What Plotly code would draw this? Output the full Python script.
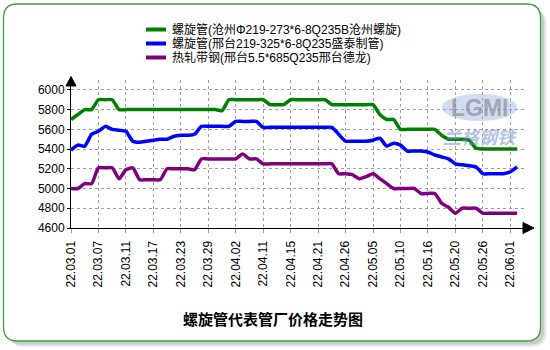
import plotly.graph_objects as go

# Trading days covered by the chart (2022)
dates = [
    "22.03.01", "22.03.02", "22.03.03", "22.03.04", "22.03.07", "22.03.08", "22.03.09", "22.03.10",
    "22.03.11", "22.03.14", "22.03.15", "22.03.16", "22.03.17", "22.03.18", "22.03.21", "22.03.22",
    "22.03.23", "22.03.24", "22.03.25", "22.03.28", "22.03.29", "22.03.30", "22.03.31", "22.04.01",
    "22.04.02", "22.04.06", "22.04.07", "22.04.08", "22.04.11", "22.04.12", "22.04.13", "22.04.14",
    "22.04.15", "22.04.18", "22.04.19", "22.04.20", "22.04.21", "22.04.22", "22.04.24", "22.04.25",
    "22.04.26", "22.04.27", "22.04.28", "22.04.29", "22.05.05", "22.05.06", "22.05.07", "22.05.09",
    "22.05.10", "22.05.11", "22.05.12", "22.05.13", "22.05.16", "22.05.17", "22.05.18", "22.05.19",
    "22.05.20", "22.05.23", "22.05.24", "22.05.25", "22.05.26", "22.05.27", "22.05.30", "22.05.31",
    "22.06.01", "22.06.02",
]
tick_dates = dates[::4]

series_names = [
    "螺旋管(沧州Φ219-273*6-8Q235B沧州螺旋)",
    "螺旋管(邢台219-325*6-8Q235盛泰制管)",
    "热轧带钢(邢台5.5*685Q235邢台德龙)",
]
series_colors = ["#008000", "#0000ff", "#800080"]

cangzhou_pipe = [
    5700, 5750, 5800, 5800, 5900, 5900, 5900, 5800,
    5800, 5800, 5800, 5800, 5800, 5800, 5800, 5800, 5800, 5800, 5800, 5800, 5800, 5800,
    5790,
    5900, 5900, 5900, 5900, 5900, 5900,
    5850, 5850, 5850,
    5900, 5900, 5900, 5900, 5900, 5900,
    5850, 5850, 5850, 5850, 5850, 5850, 5850,
    5750, 5700, 5700,
    5600, 5600, 5600, 5600, 5600, 5600,
    5540, 5500, 5500, 5500, 5490, 5410,
    5400, 5400, 5400, 5400, 5400, 5400,
]
xingtai_pipe = [
    5390, 5440, 5430, 5550, 5580, 5630, 5600, 5590, 5580, 5480,
    5470, 5480, 5490, 5500, 5500, 5530, 5540, 5540, 5550, 5630,
    5630, 5630, 5630, 5630, 5680, 5680, 5680, 5680, 5620,
    5620, 5620, 5620, 5620, 5620, 5620, 5620, 5620, 5620, 5620,
    5550, 5480, 5480, 5480, 5480, 5490, 5510, 5430, 5460, 5440,
    5380, 5380, 5380, 5370, 5340, 5320, 5300, 5250, 5240, 5230,
    5220, 5150, 5150, 5150, 5150, 5170, 5220,
]
xingtai_strip = [
    5000, 5000, 5050, 5050, 5210, 5210, 5210, 5100, 5190, 5210,
    5090, 5090, 5090, 5090, 5200, 5200, 5200, 5200, 5190, 5300,
    5300, 5300, 5300, 5300, 5300,
    5350, 5300, 5300, 5250,
    5250, 5250, 5250, 5250, 5250, 5250, 5250, 5250, 5250, 5250,
    5150, 5150, 5140, 5100, 5120, 5150, 5100, 5050, 5000, 5000,
    5000, 5000, 4950, 4950, 4950, 4850, 4810, 4750, 4800, 4800,
    4800, 4750,
    4750, 4750, 4750, 4750, 4750,
]
series_values = [cangzhou_pipe, xingtai_pipe, xingtai_strip]

y_ticks = [4600, 4800, 5000, 5200, 5400, 5600, 5800, 6000]
chart_title = "螺旋管代表管厂价格走势图"
logo_text = "LGMI"
logo_sub = "兰格钢铁"

# Canvas and plot-area geometry (pixels)
W, H = 550, 350
L, R, T, B = 71, 26, 80, 122
PW = W - L - R
PH = H - T - B
BASE = H - B


def paper(x, y):
    """Pixel position -> paper coordinates."""
    return (x - L) / PW, (BASE - y) / PH


def rounded_rect(x0, y0, x1, y1, r):
    pts = []

    def p(x, y):
        a, b = paper(x, y)
        return f"{a:.5f},{b:.5f}"

    pts.append(f"M{p(x0 + r, y0)}")
    pts.append(f"L{p(x1 - r, y0)}")
    pts.append(f"Q{p(x1, y0)} {p(x1, y0 + r)}")
    pts.append(f"L{p(x1, y1 - r)}")
    pts.append(f"Q{p(x1, y1)} {p(x1 - r, y1)}")
    pts.append(f"L{p(x0 + r, y1)}")
    pts.append(f"Q{p(x0, y1)} {p(x0, y1 - r)}")
    pts.append(f"L{p(x0, y0 + r)}")
    pts.append(f"Q{p(x0, y0)} {p(x0 + r, y0)}")
    pts.append("Z")
    return " ".join(pts)


def poly(points):
    s = []
    for i, (x, y) in enumerate(points):
        a, b = paper(x, y)
        s.append(("M" if i == 0 else "L") + f"{a:.5f},{b:.5f}")
    return " ".join(s) + " Z"


fig = go.Figure()
for name, vals, col in zip(series_names, series_values, series_colors):
    fig.add_trace(go.Scatter(
        x=dates, y=vals, name=name, mode="lines",
        line=dict(color=col, width=3.5, shape="spline", smoothing=0.6),
        showlegend=False, hoverinfo="skip",
    ))

shapes = []
# drop shadow and rounded panel
for off, alpha in [(7, 0.05), (5.5, 0.07), (4, 0.09)]:
    shapes.append(dict(type="path", xref="paper", yref="paper", layer="below",
                       path=rounded_rect(3.5 + off, 4 + off, 540.5 + off * 0.9, 341 + off * 0.9, 14),
                       fillcolor=f"rgba(0,0,0,{alpha})", line=dict(width=0)))
shapes.append(dict(type="path", xref="paper", yref="paper", layer="below",
                   path=rounded_rect(3.5, 4, 540.5, 341, 14),
                   fillcolor="white", line=dict(color="#3f9a3f", width=1.3)))

# watermark logo
ex0, ey0 = paper(442, 121)
ex1, ey1 = paper(517, 94)
shapes.append(dict(type="circle", xref="paper", yref="paper", layer="below",
                   x0=ex0, y0=ey0, x1=ex1, y1=ey1,
                   fillcolor="rgba(160,185,228,0.5)", line=dict(width=0)))

# axis arrows
shapes.append(dict(type="path", xref="paper", yref="paper",
                   path=poly([(66, 86), (71, 76.5), (76, 86)]),
                   fillcolor="black", line=dict(color="black", width=1)))
shapes.append(dict(type="path", xref="paper", yref="paper",
                   path=poly([(523, 222.5), (534, BASE), (523, 233.5)]),
                   fillcolor="black", line=dict(color="black", width=1)))

annotations = []
# legend
legend_rows = [29.5, 43.5, 57.5]
for name, col, ry in zip(series_names, series_colors, legend_rows):
    a0, b0 = paper(146, ry)
    a1, _ = paper(166, ry)
    shapes.append(dict(type="line", xref="paper", yref="paper",
                       x0=a0, y0=b0, x1=a1, y1=b0, line=dict(color=col, width=4)))
    tx, ty = paper(170, ry)
    annotations.append(dict(xref="paper", yref="paper", x=tx, y=ty, text=name,
                            showarrow=False, xanchor="left", yanchor="middle",
                            font=dict(family="Liberation Sans, Noto Sans CJK SC", size=12, color="#000")))

lx, ly = paper(479.5, 107.5)
annotations.append(dict(xref="paper", yref="paper", x=lx, y=ly, text=f"<b>{logo_text}</b>",
                        showarrow=False, xanchor="center", yanchor="middle",
                        font=dict(family="Liberation Sans", size=23, color="rgba(130,130,138,0.6)")))
sx, sy = paper(479.5, 136)
annotations.append(dict(xref="paper", yref="paper", x=sx, y=sy, text=f"<b><i>{logo_sub}</i></b>",
                        showarrow=False, xanchor="center", yanchor="middle",
                        font=dict(family="Noto Sans CJK SC", size=18, color="rgba(105,135,200,0.5)")))

tx, ty = paper(273, 318)
annotations.append(dict(xref="paper", yref="paper", x=tx, y=ty, text=f"<b>{chart_title}</b>",
                        showarrow=False, xanchor="center", yanchor="middle",
                        font=dict(family="Noto Sans CJK SC", size=15, color="#000")))

fig.update_layout(
    width=W, height=H,
    margin=dict(l=L, r=R, t=T, b=B, pad=0),
    paper_bgcolor="white", plot_bgcolor="rgba(0,0,0,0)",
    shapes=shapes, annotations=annotations,
    showlegend=False,
    xaxis=dict(
        type="category", range=[0, len(dates)],
        tickmode="array", tickvals=tick_dates, ticktext=tick_dates,
        tickangle=-90, ticks="outside", ticklen=4, tickcolor="#999",
        ticklabelstandoff=3,
        tickfont=dict(family="Liberation Sans", size=12, color="#000"),
        showgrid=True, gridcolor="#a0a0a0", griddash="dot", gridwidth=1,
        showline=True, linecolor="black", linewidth=1,
        zeroline=False, fixedrange=True,
    ),
    yaxis=dict(
        range=[4600, 6100], tickmode="array", tickvals=y_ticks,
        ticks="outside", ticklen=3, tickcolor="black",
        tickfont=dict(family="Liberation Sans", size=12, color="#000"),
        showgrid=True, gridcolor="#a0a0a0", griddash="dot", gridwidth=1,
        showline=True, linecolor="black", linewidth=1,
        zeroline=False, fixedrange=True,
    ),
)

fig.write_html("out.html")
